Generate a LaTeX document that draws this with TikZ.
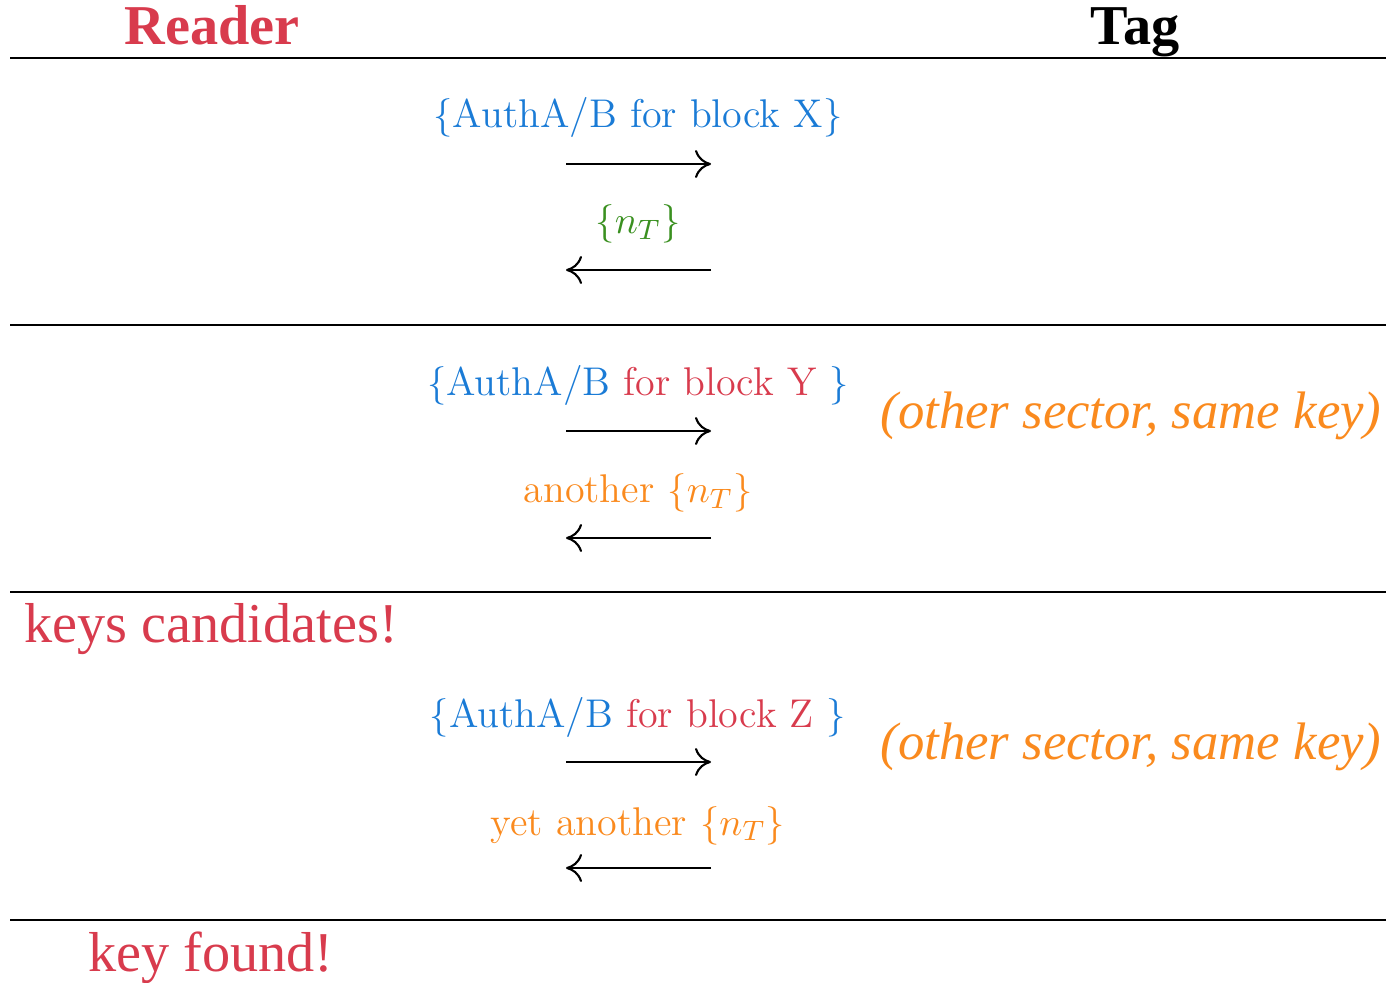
\documentclass[tikz,border=0pt]{standalone}
\usepackage{fontspec}
\usetikzlibrary{arrows.meta}
\newfontfamily\libfont{Liberation Serif}
\definecolor{Azure}{HTML}{1A7BD6}
\definecolor{Crimson}{HTML}{D83B4D}
\definecolor{Leaf}{HTML}{3A9020}
\definecolor{Tangerine}{HTML}{FA8A1E}

\begin{document}
\begin{tikzpicture}[x=.01cm,y=-.01cm,
    msg/.style={anchor=base,font=\fontsize{11.4}{13}\selectfont},
    big/.style={anchor=base,font=\fontsize{16}{19}\libfont},
    head/.style={anchor=base,font=\fontsize{16}{19}\libfont\bfseries},
    aside/.style={anchor=base west,text=Tangerine,font=\fontsize{15}{18}\libfont\itshape},
    flow/.style={line width=.6pt,-{To[length=1.6mm,width=2.8mm]}}]
    \useasboundingbox (0,0) rectangle (1386,983);
    \foreach \yy in {58,325,592,920}{
      \draw[line width=.8pt] (10,\yy) -- (1386,\yy);
    }
    \node[head,text=Crimson] (reader) at (212,45) {Reader};
    \node[head] (tag) at (1135,45) {Tag};
    \foreach \yy in {164,431,762}{
      \coordinate (fwdA\yy) at (566,\yy);
      \coordinate (fwdB\yy) at (711,\yy);
      \draw[flow] (fwdA\yy) -- (fwdB\yy);
    }
    \foreach \yy in {270,538,868}{
      \coordinate (bwdA\yy) at (566,\yy);
      \coordinate (bwdB\yy) at (711,\yy);
      \draw[flow] (bwdB\yy) -- (bwdA\yy);
    }
    \node[msg,text=Azure] (authx) at (638,128) {$\{$AuthA/B for block X$\}$};
    \node[msg,text=Leaf] (nonx) at (638,234) {$\{n_T\}$};
    \node[msg,text=Azure] (authy) at (638,396) {$\{$AuthA/B \textcolor{Crimson}{for block Y} $\}$};
    \node[msg,text=Tangerine] (nony) at (638,503) {another $\{n_T\}$};
    \node[aside] (secy) at (868,429) {(other sector, same key)};
    \node[big,text=Crimson,anchor=base west] (cand) at (12,642) {keys candidates!};
    \node[msg,text=Azure] (authz) at (638,727) {$\{$AuthA/B \textcolor{Crimson}{for block Z} $\}$};
    \node[msg,text=Tangerine] (nonz) at (638,835) {yet another $\{n_T\}$};
    \node[aside] (secz) at (868,759) {(other sector, same key)};
    \node[big,text=Crimson] (found) at (211,971) {key found!};
  \end{tikzpicture}
\end{document}
